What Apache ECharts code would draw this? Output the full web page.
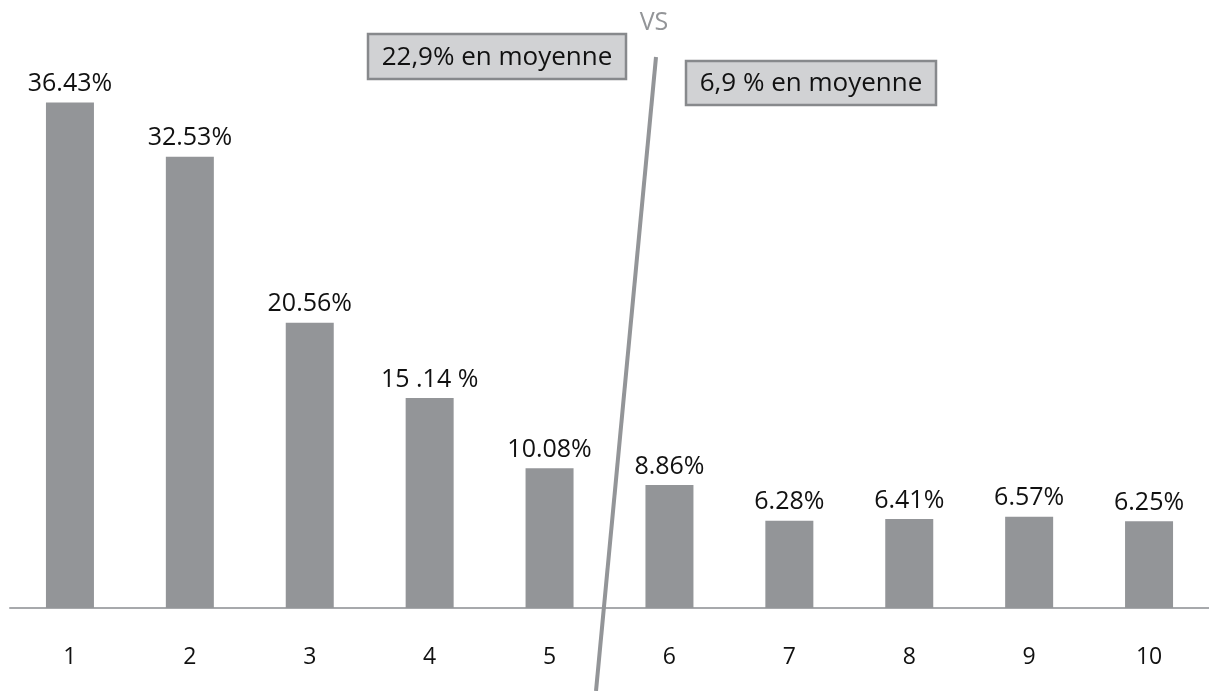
<!DOCTYPE html>
<html>
<head>
<meta charset="utf-8">
<script src="https://cdn.jsdelivr.net/npm/echarts@6/dist/echarts.min.js"></script>
<style>
  html, body { margin: 0; padding: 0; background: #ffffff; }
  #chart { width: 1209px; height: 691px; }
</style>
</head>
<body>
<div id="chart"></div>
<script>
// Rank positions on the x axis
const categories = ['1', '2', '3', '4', '5', '6', '7', '8', '9', '10'];
// Share per rank, in percent
const values = [36.43, 32.53, 20.56, 15.14, 10.08, 8.86, 6.28, 6.41, 6.57, 6.25];
// Text printed above each bar
const valueLabels = ['36.43%', '32.53%', '20.56%', '15 .14 %', '10.08%', '8.86%', '6.28%', '6.41%', '6.57%', '6.25%'];
// Group averages shown in the two boxes
const averageLabels = ['22,9% en moyenne', '6,9 % en moyenne'];
const separatorText = 'VS';

const FONT = '"Open Sans", "DejaVu Sans", sans-serif';
const BAR_GREY = '#939598';

const chart = echarts.init(document.getElementById('chart'));

// A grey box with its caption centred inside
function captionBox(x, y, w, h, text) {
  return {
    type: 'group', z: 10,
    children: [
      { type: 'rect', z: 10,
        shape: { x: x, y: y, width: w, height: h },
        style: { fill: '#d1d2d4', stroke: '#87898c', lineWidth: 2.5 } },
      { type: 'text', z: 11, x: x + w / 2, y: y + h / 2 + 1,
        style: { text: text, fill: '#111111', font: '26px ' + FONT,
                 textAlign: 'center', textVerticalAlign: 'middle' } }
    ]
  };
}

chart.setOption({
  animation: false,
  backgroundColor: '#ffffff',
  grid: { left: 10, top: 53, width: 1200, height: 555, containLabel: false },
  xAxis: {
    type: 'category',
    data: categories,
    axisLine: { show: true, lineStyle: { color: '#a7a9ac', width: 2 } },
    axisTick: { show: false },
    axisLabel: { color: '#111111', fontFamily: FONT, fontSize: 23, margin: 38 }
  },
  yAxis: {
    type: 'value', min: 0, max: 40, show: false,
    splitLine: { show: false }
  },
  series: [{
    type: 'bar',
    data: values,
    barWidth: 48,
    itemStyle: { color: BAR_GREY },
    label: {
      show: true,
      position: 'top',
      distance: 6,
      color: '#111111',
      fontFamily: FONT,
      fontSize: 25,
      formatter: p => valueLabels[p.dataIndex]
    }
  }],
  graphic: [
    // Slanted divider between the two groups
    { type: 'line', z: 10,
      shape: { x1: 656, y1: 57, x2: 596, y2: 691 },
      style: { stroke: BAR_GREY, lineWidth: 4 } },
    { type: 'text', z: 10, x: 654, y: 23,
      style: { text: separatorText, fill: BAR_GREY, font: '25px ' + FONT,
               textAlign: 'center', textVerticalAlign: 'middle' } },
    captionBox(368, 34, 258, 45, averageLabels[0]),
    captionBox(686, 61, 250, 44, averageLabels[1])
  ]
});
</script>
</body>
</html>
